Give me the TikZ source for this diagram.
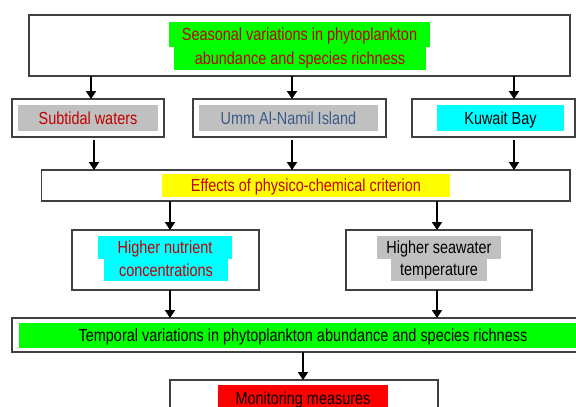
\documentclass[tikz,border=0pt]{standalone}
\usepackage{fontspec}
\setmainfont{Liberation Sans}[FakeStretch=0.825]
\usetikzlibrary{arrows.meta}
\definecolor{txtred}{HTML}{C00000}
\definecolor{txtblue}{HTML}{3B5A8A}
\definecolor{hlgreen}{HTML}{00FF00}
\definecolor{hlgray}{HTML}{C0C0C0}
\definecolor{hlcyan}{HTML}{00FFFF}
\definecolor{hlyellow}{HTML}{FFFF00}
\definecolor{hlred}{HTML}{FF0000}
\definecolor{boxline}{HTML}{404040}
\tikzset{
  box/.style={draw=boxline, line width=1.1pt, fill=white, inner sep=0pt, outer sep=0pt},
  hl/.style={inner sep=0pt, outer sep=0pt, font=\fontsize{17.5}{20}\selectfont, text depth=0pt},
  arr/.style={line width=2pt, -{Triangle[width=10pt,length=8pt]}},
}
\begin{document}
\begin{tikzpicture}[x=1pt,y=-1pt]
\clip (0,0) rectangle (576,407);
\fill[white] (0,0) rectangle (576,407);
% top box
\node[box, minimum width=541pt, minimum height=61pt] (top) at (299.5,45.5) {};
\node[hl, fill=hlgreen, text=txtred, minimum width=261pt, minimum height=25pt] (top1) at (299.5,34.5) {Seasonal variations in phytoplankton};
\node[hl, fill=hlgreen, text=txtred, minimum width=252pt, minimum height=23pt] (top2) at (300,58.5) {abundance and species richness};
% row 2
\node[box, minimum width=152pt, minimum height=38pt] (b1) at (88,118) {};
\node[hl, fill=hlgray, text=txtred, minimum width=140pt, minimum height=26pt] (b1t) at (88,118) {Subtidal waters};
\node[box, minimum width=193pt, minimum height=38pt] (b2) at (289.5,118) {};
\node[hl, fill=hlgray, text=txtblue, minimum width=179pt, minimum height=26pt] (b2t) at (288.5,118) {Umm Al-Namil Island};
\node[box, minimum width=163pt, minimum height=38pt] (b3) at (493.5,118) {};
\node[hl, fill=hlcyan, text=black, minimum width=127pt, minimum height=26pt] (b3t) at (500.5,118) {Kuwait Bay};
% effects
\node[box, minimum width=528.5pt, minimum height=31pt] (eff) at (305.75,185.5) {};
\node[hl, fill=hlyellow, text=txtred, minimum width=288pt, minimum height=23pt] (efft) at (306,185.5) {Effects of physico-chemical criterion};
% row 4
\node[box, minimum width=187pt, minimum height=60pt] (nut) at (165.5,260) {};
\node[hl, fill=hlcyan, text=txtred, minimum width=134pt, minimum height=23pt] (nut1) at (165,247.5) {Higher nutrient};
\node[hl, fill=hlcyan, text=txtred, minimum width=124pt, minimum height=22pt] (nut2) at (166,270) {concentrations};
\node[box, minimum width=186pt, minimum height=60pt] (tem) at (439,260) {};
\node[hl, fill=hlgray, text=black, minimum width=124pt, minimum height=23pt] (tem1) at (439,247.5) {Higher seawater};
\node[hl, fill=hlgray, text=black, minimum width=96pt, minimum height=22pt] (tem2) at (439,270) {temperature};
% temporal
\node[box, minimum width=578pt, minimum height=34pt] (tmp) at (301,335) {};
\node[hl, fill=hlgreen, text=black, minimum width=568pt, minimum height=25pt] (tmpt) at (303,335.5) {Temporal variations in phytoplankton abundance and species richness};
% monitoring
\node[box, minimum width=268pt, minimum height=40pt] (mon) at (304,400) {};
\node[hl, fill=hlred, text=black, minimum width=170pt, minimum height=26pt] (mont) at (303,398) {Monitoring measures};
% arrows
\draw[arr] (top.south -| 91,0) -- (b1.north -| 91,0);
\draw[arr] (top.south -| 292,0) -- (b2.north -| 292,0);
\draw[arr] (top.south -| 514,0) -- (b3.north -| 514,0);
\draw[arr, shorten <=2.5pt] (b1.south -| 94,0) -- (eff.north -| 94,0);
\draw[arr, shorten <=2.5pt] (b2.south -| 292,0) -- (eff.north -| 292,0);
\draw[arr, shorten <=2.5pt] (b3.south -| 514,0) -- (eff.north -| 514,0);
\draw[arr] (eff.south -| 170,0) -- (nut.north -| 170,0);
\draw[arr] (eff.south -| 437,0) -- (tem.north -| 437,0);
\draw[arr] (nut.south -| 170,0) -- (tmp.north -| 170,0);
\draw[arr] (tem.south -| 437,0) -- (tmp.north -| 437,0);
\draw[arr] (tmp.south -| 303,0) -- (mon.north -| 303,0);
\end{tikzpicture}
\end{document}
